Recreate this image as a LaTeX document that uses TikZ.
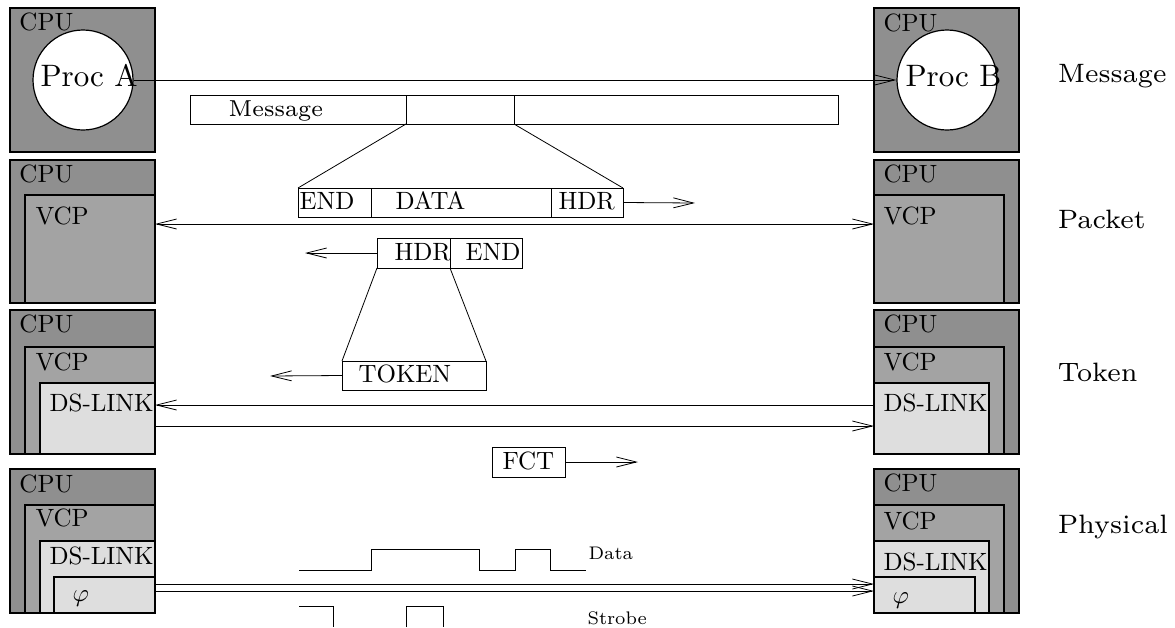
\documentclass[tikz,border=0pt]{standalone}
\usetikzlibrary{arrows.meta}
\definecolor{cpugray}{gray}{0.56}
\definecolor{vcpgray}{gray}{0.64}
\definecolor{linkgray}{gray}{0.87}

\begin{document}
\begin{tikzpicture}[x=1pt,y=-1pt]
\def \posrx {874}
\tikzset{BoxStyle/.style = {draw=black, line width=1.2pt, inner sep=0pt, outer sep=0pt, anchor=north west},
   CpuStyle/.style = {BoxStyle, fill=cpugray, minimum width=145pt},
   VcpStyle/.style = {BoxStyle, fill=vcpgray, minimum width=130pt},
   LinkStyle/.style = {BoxStyle, fill=linkgray, minimum width=115pt},
   PhiStyle/.style = {BoxStyle, fill=linkgray, minimum width=101pt},
   CellStyle/.style = {draw=black, line width=0.8pt, inner sep=0pt, outer sep=0pt, anchor=north west},
   LabelBase/.style = {font=\fontsize{10}{12}\selectfont, inner sep=0pt, anchor=base west},
   TextStyle/.style = {LabelBase, scale=2.5},
   ProcText/.style = {LabelBase, scale=3.1},
   BarText/.style = {LabelBase, font=\fontsize{7}{8}\selectfont, scale=3.3},
   SmallText/.style = {LabelBase, font=\fontsize{7}{8}\selectfont, scale=2.6},
   NameText/.style = {LabelBase, font=\fontsize{7}{8}\selectfont, scale=3.8},
   ArrowStyle/.style = {line width=0.8pt, -{Straight Barb[length=20pt,width=10pt]}},
   DArrowStyle/.style = {line width=0.8pt, {Straight Barb[length=20pt,width=10pt]}-{Straight Barb[length=20pt,width=10pt]}},
   WaveStyle/.style = {line width=0.8pt}}
\useasboundingbox (0,0) rectangle (1175,627);

% message layer
   \node[CpuStyle, minimum height=144pt] (cpuL1) at (10,8) {};
   \node[CpuStyle, minimum height=144pt] (cpuR1) at (\posrx,8) {};
   \node[circle, draw, fill=white, line width=1.2pt, minimum size=100pt, inner sep=0pt] (procA) at (83,80) {};
   \node[circle, draw, fill=white, line width=1.2pt, minimum size=100pt, inner sep=0pt] (procB) at (947,80) {};
   \node[TextStyle] (cpuL1t) at (19,30) {CPU};
   \node[TextStyle] (cpuR1t) at (883,31) {CPU};
   \node[ProcText] (procAt) at (40,86) {Proc A};
   \node[ProcText] (procBt) at (905,86) {Proc B};
   \draw[ArrowStyle] (procA.east) -- (procB.west);

   \node[CellStyle, minimum width=216pt, minimum height=29pt] (msgA) at (190,95) {};
   \node[CellStyle, minimum width=108pt, minimum height=29pt] (msgB) at (406,95) {};
   \node[CellStyle, minimum width=324pt, minimum height=29pt] (msgC) at (514,95) {};
   \node[BarText] (msgt) at (228,116) {Message};

% packet layer
   \node[CpuStyle, minimum height=143pt] (cpuL2) at (10,160) {};
   \node[VcpStyle, minimum height=108pt] (vcpL2) at (25,195) {};
   \node[CpuStyle, minimum height=143pt] (cpuR2) at (\posrx,160) {};
   \node[VcpStyle, minimum height=108pt] (vcpR2) at (\posrx,195) {};
   \node[TextStyle] at (19,182) {CPU};
   \node[TextStyle] at (35,224) {VCP};
   \node[TextStyle] at (883,182) {CPU};
   \node[TextStyle] at (883,224) {VCP};

   \node[CellStyle, minimum width=73pt, minimum height=29pt] (endA) at (298,188) {};
   \node[CellStyle, minimum width=180pt, minimum height=29pt] (dataA) at (371,188) {};
   \node[CellStyle, minimum width=72pt, minimum height=29pt] (hdrA) at (551,188) {};
   \node[TextStyle] at (299,209) {END};
   \node[TextStyle] at (395,209) {DATA};
   \node[TextStyle] at (558,209) {HDR};
   \draw[line width=0.8pt] (msgB.south west) -- (endA.north west);
   \draw[line width=0.8pt] (msgB.south east) -- (hdrA.north east);
   \coordinate (pktend) at (695,203);
   \draw[ArrowStyle] (hdrA.east) -- (pktend);
   \draw[DArrowStyle] ([yshift=25pt]vcpL2.east) -- ([yshift=25pt]vcpR2.west);

   \node[CellStyle, minimum width=73pt, minimum height=30pt] (hdrB) at (377,238) {};
   \node[CellStyle, minimum width=72pt, minimum height=30pt] (endB) at (450,238) {};
   \node[TextStyle] at (394,260) {HDR};
   \node[TextStyle] at (465,260) {END};
   \coordinate (hdrend) at (305,253);
   \draw[ArrowStyle] (hdrB.west) -- (hdrend);

% token layer
   \node[CpuStyle, minimum height=144pt] (cpuL3) at (10,310) {};
   \node[VcpStyle, minimum height=107pt] (vcpL3) at (25,347) {};
   \node[LinkStyle, minimum height=71pt] (linkL3) at (40,383) {};
   \node[CpuStyle, minimum height=144pt] (cpuR3) at (\posrx,310) {};
   \node[VcpStyle, minimum height=107pt] (vcpR3) at (\posrx,347) {};
   \node[LinkStyle, minimum height=71pt] (linkR3) at (\posrx,383) {};
   \node[TextStyle] at (19,332) {CPU};
   \node[TextStyle] at (35,370) {VCP};
   \node[TextStyle] at (49,411) {DS-LINK};
   \node[TextStyle] at (883,332) {CPU};
   \node[TextStyle] at (883,370) {VCP};
   \node[TextStyle] at (883,411) {DS-LINK};

   \node[CellStyle, minimum width=144pt, minimum height=29pt] (tok) at (342,361) {};
   \node[TextStyle] at (358,382) {TOKEN};
   \draw[line width=0.8pt] (hdrB.south west) -- (tok.north west);
   \draw[line width=0.8pt] (hdrB.south east) -- (tok.north east);
   \coordinate (tokend) at (270,376);
   \draw[ArrowStyle] (tok.west) -- (tokend);
   \draw[ArrowStyle] ([yshift=13.5pt]linkR3.west) -- ([yshift=13.5pt]linkL3.east);
   \draw[ArrowStyle] ([yshift=-7.5pt]linkL3.east) -- ([yshift=-7.5pt]linkR3.west);

   \node[CellStyle, minimum width=73pt, minimum height=30pt] (fct) at (492,447) {};
   \node[TextStyle] at (502,469) {FCT};
   \coordinate (fctend) at (638,462);
   \draw[ArrowStyle] (fct.east) -- (fctend);

% physical layer
   \node[CpuStyle, minimum height=144pt] (cpuL4) at (10,469) {};
   \node[VcpStyle, minimum height=108pt] (vcpL4) at (25,505) {};
   \node[LinkStyle, minimum height=72pt] (linkL4) at (40,541) {};
   \node[PhiStyle, minimum height=36pt] (phiL) at (54,577) {};
   \node[CpuStyle, minimum height=144pt] (cpuR4) at (\posrx,469) {};
   \node[VcpStyle, minimum height=108pt] (vcpR4) at (\posrx,505) {};
   \node[LinkStyle, minimum height=72pt] (linkR4) at (\posrx,541) {};
   \node[PhiStyle, minimum height=36pt] (phiR) at (\posrx,577) {};
   \node[TextStyle] at (19,492) {CPU};
   \node[TextStyle] at (35,526) {VCP};
   \node[TextStyle] at (49,564) {DS-LINK};
   \node[TextStyle] at (72,601) {$\varphi$};
   \node[TextStyle] at (883,491) {CPU};
   \node[TextStyle] at (883,529) {VCP};
   \node[TextStyle] at (883,570) {DS-LINK};
   \node[TextStyle] at (892,603) {$\varphi$};
   \draw[ArrowStyle] ([yshift=11pt]phiL.east) -- ([yshift=11pt]phiR.west);
   \draw[ArrowStyle] ([yshift=4pt]phiL.east) -- ([yshift=4pt]phiR.west);

   \draw[WaveStyle] (299,570) -- (371,570) -- (371,549) -- (479,549) -- (479,570) -- (515,570) -- (515,549) -- (550,549) -- (550,570) -- (586,570);
   \draw[WaveStyle] (299,606) -- (333,606) -- (333,627);
   \draw[WaveStyle] (406,627) -- (406,606) -- (443,606) -- (443,627);
   \node[SmallText] at (588,559) {Data};
   \node[SmallText] at (587,624) {Strobe};

% layer names
   \node[NameText] at (1057,82) {Message};
   \node[NameText] at (1057,228) {Packet};
   \node[NameText] at (1057,381) {Token};
   \node[NameText] at (1057,533) {Physical};
\end{tikzpicture}
\end{document}
